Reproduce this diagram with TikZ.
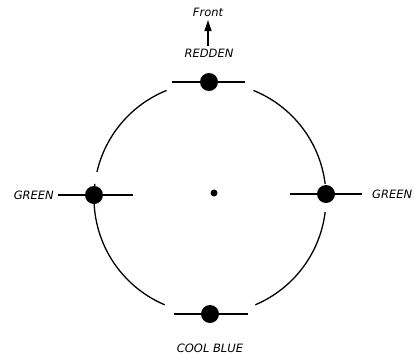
\documentclass[tikz,border=0pt]{standalone}
\usepackage{fontspec}
\setmainfont{DejaVu Sans}
\usetikzlibrary{arrows.meta}
\begin{document}
\begin{tikzpicture}[x=1pt,y=-1pt,
  ln/.style={line width=1.3pt,black},
  bigdot/.style={circle,fill=black,inner sep=0pt,minimum size=18pt},
  smalldot/.style={circle,fill=black,inner sep=0pt,minimum size=7pt},
  lbl/.style={font=\itshape\fontsize{11.5}{13}\selectfont,inner sep=0pt}]
\useasboundingbox (0,0) rectangle (415,354);
\clip (0,0) rectangle (415,354);
\def\cx{210}\def\cy{198}\def\r{116}
% arcs
\draw[ln] (\cx,\cy) ++(113:\r) arc[start angle=113,end angle=187,radius=\r];
\draw[ln] (\cx,\cy) ++(193:\r) arc[start angle=193,end angle=248,radius=\r];
\draw[ln] (\cx,\cy) ++(292:\r) arc[start angle=292,end angle=353,radius=\r];
\draw[ln] (\cx,\cy) ++(7:\r) arc[start angle=7,end angle=67,radius=\r];
% bars
\coordinate (t1) at (172,82); \coordinate (t2) at (245,82);
\coordinate (l1) at (58,195); \coordinate (l2) at (133,195);
\coordinate (r1) at (290,194); \coordinate (r2) at (362,194);
\coordinate (b1) at (174,314); \coordinate (b2) at (248,314);
\draw[ln] (t1) -- (t2);
\draw[ln] (l1) -- (l2);
\draw[ln] (r1) -- (r2);
\draw[ln] (b1) -- (b2);
% dots
\node[bigdot] (top) at (209,82) {};
\node[bigdot] (left) at (94,195) {};
\node[bigdot] (right) at (326,194) {};
\node[bigdot] (bottom) at (210,314) {};
\node[smalldot] (center) at (214,193) {};
% labels
\node[lbl] (redden) at (209,53) {REDDEN};
\node[lbl] (front) at (208,12) {Front};
\node[lbl,anchor=east] (gl) at (54,195) {GREEN};
\node[lbl,anchor=west] (gr) at (372,194) {GREEN};
\node[lbl] (cool) at (210,348) {COOL BLUE};
\draw[line width=1.3pt,-{Triangle[length=11pt,width=7pt]}] (redden.north) ++(-1,-3) -- (208,20);
\end{tikzpicture}
\end{document}
